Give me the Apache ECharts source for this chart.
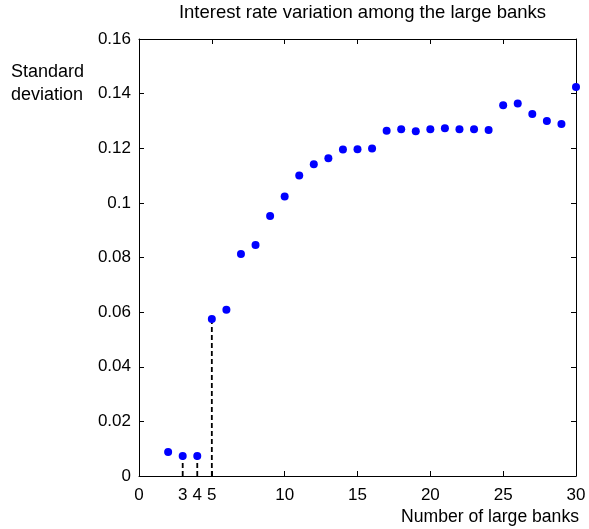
<!DOCTYPE html>
<html>
<head>
<meta charset="utf-8">
<script src="https://cdn.jsdelivr.net/npm/echarts@6/dist/echarts.min.js"></script>
<style>html,body{margin:0;padding:0;background:#fff}#c{width:589px;height:529px}</style>
</head>
<body>
<div id="c"></div>
<script>
var banks = [2,3,4,5,6,7,8,9,10,11,12,13,14,15,16,17,18,19,20,21,22,23,24,25,26,27,28,29,30];
var stdDev = [0.0088,0.0073,0.0073,0.0575,0.0609,0.0813,0.0846,0.0952,0.1023,0.1100,0.1141,0.1163,0.1195,0.1196,0.1199,0.1264,0.1270,0.1262,0.1270,0.1273,0.1270,0.1270,0.1267,0.1357,0.1364,0.1325,0.1300,0.1289,0.1424];
var markedBanks = [3,4,5];
var xTickLabels = [0,3,4,5,10,15,20,25,30];
var xTopTicks = [0,5,10,15,20,25,30];
var titleText = 'Interest rate variation among the large banks';
var yName = 'Standard\ndeviation';
var xName = 'Number of large banks';

var FONT = "'Liberation Sans', Arial, sans-serif";
var FS = 17;

var chart = echarts.init(document.getElementById('c'), null, {renderer:'canvas'});

var series = [{
  type:'scatter',
  data: banks.map(function(b,i){return [b, stdDev[i]];}),
  symbol:'circle',
  symbolSize:8,
  itemStyle:{color:'#0000ff', opacity:1},
  z:3,
  silent:true
}];
markedBanks.forEach(function(b){
  var v = stdDev[banks.indexOf(b)];
  series.push({
    type:'line',
    data:[[b,0],[b,v]],
    symbol:'none',
    lineStyle:{color:'#000', width:1.8, type:[5,3]},
    z:2,
    silent:true
  });
});

var axisText = {color:'#000', fontSize:FS, fontFamily:FONT};

chart.setOption({
  animation:false,
  backgroundColor:'#fff',
  grid:{left:139, right:13, top:39, bottom:53, containLabel:false},
  xAxis:[{
    type:'value', min:0, max:30, position:'bottom',
    axisLine:{show:true, onZero:false, lineStyle:{color:'#000', width:1}},
    axisTick:{show:true, inside:true, length:5, lineStyle:{color:'#000'}, customValues:xTickLabels},
    axisLabel:Object.assign({show:true, margin:11, customValues:xTickLabels}, axisText),
    splitLine:{show:false}
  },{
    type:'value', min:0, max:30, position:'top',
    axisLine:{show:true, onZero:false, lineStyle:{color:'#000', width:1}},
    axisTick:{show:true, inside:true, length:5, lineStyle:{color:'#000'}, customValues:xTopTicks},
    axisLabel:{show:false},
    splitLine:{show:false}
  }],
  yAxis:[{
    type:'value', min:0, max:0.16, interval:0.02, position:'left',
    axisLine:{show:true, onZero:false, lineStyle:{color:'#000', width:1}},
    axisTick:{show:true, inside:true, length:5, lineStyle:{color:'#000'}},
    axisLabel:Object.assign({show:true, margin:8}, axisText),
    splitLine:{show:false}
  },{
    type:'value', min:0, max:0.16, interval:0.02, position:'right',
    axisLine:{show:true, onZero:false, lineStyle:{color:'#000', width:1}},
    axisTick:{show:true, inside:true, length:5, lineStyle:{color:'#000'}},
    axisLabel:{show:false},
    splitLine:{show:false}
  }],
  graphic:[
    {type:'text', x:362.5, y:13, style:{text:titleText, fill:'#000', font:'18.5px '+FONT, textAlign:'center', textVerticalAlign:'middle'}},
    {type:'text', x:11, y:84, style:{text:yName, fill:'#000', font:'18px '+FONT, textAlign:'left', textVerticalAlign:'middle', lineHeight:23}},
    {type:'text', x:579, y:517, style:{text:xName, fill:'#000', font:'17.6px '+FONT, textAlign:'right', textVerticalAlign:'middle'}}
  ],
  series:series
});
</script>
</body>
</html>
